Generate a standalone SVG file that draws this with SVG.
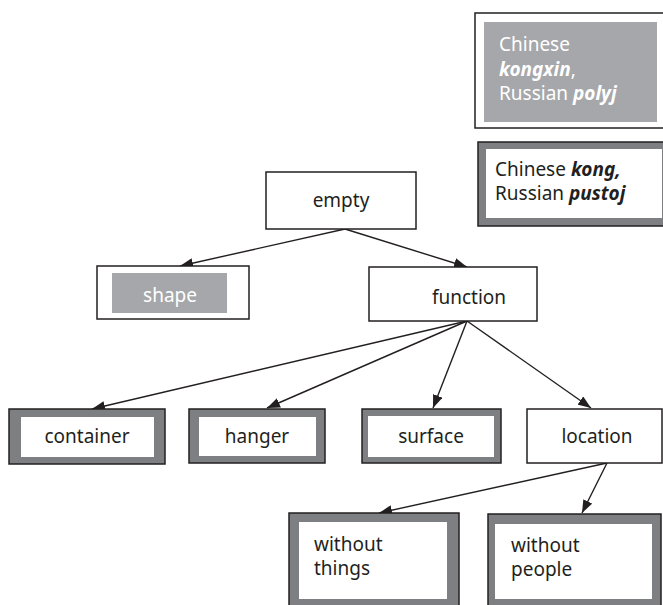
<svg xmlns="http://www.w3.org/2000/svg" width="663" height="605" viewBox="0 0 663 605">
  <style>
    text { font-family: "Noto Sans", "Open Sans", sans-serif; font-size: 19px; fill: #231f20; }
    .c { text-anchor: middle; }
    .w { fill: #ffffff; }
    .bi { font-weight: bold; font-style: italic; }
    .plain { fill: #ffffff; stroke: #231f20; stroke-width: 1.5; }
    .thick { fill: #7e7f83; stroke: #231f20; stroke-width: 1.5; }
    .inner { fill: #ffffff; }
    .grey { fill: #a6a7aa; }
    .edge { stroke: #231f20; stroke-width: 1.4; fill: none; marker-end: url(#arrow); }
  </style>
  <defs>
    <marker id="arrow" markerUnits="userSpaceOnUse" markerWidth="14" markerHeight="10" refX="13" refY="5" orient="auto">
      <path d="M0,0 L13,5 L0,10 z" fill="#231f20"/>
    </marker>
  </defs>

  <rect width="663" height="605" fill="#ffffff"/>

  <!-- key: plain frame with grey fill -->
  <g id="key-kongxin">
    <rect class="plain" x="475" y="13" width="195" height="115"/>
    <rect class="grey" x="484" y="22" width="173" height="100"/>
    <text class="w" x="499" y="51">Chinese</text>
    <text class="w" x="499" y="76"><tspan class="bi w">kongxin</tspan>,</text>
    <text class="w" x="499" y="100">Russian <tspan class="bi w">polyj</tspan></text>
  </g>

  <!-- key: thick grey frame -->
  <g id="key-kong">
    <rect class="thick" x="478" y="142" width="195" height="84"/>
    <rect class="inner" x="486" y="149" width="176" height="69"/>
    <text x="495" y="176">Chinese <tspan class="bi">kong,</tspan></text>
    <text x="495" y="200">Russian <tspan class="bi">pustoj</tspan></text>
  </g>

  <g id="connectors">
    <line class="edge" x1="345" y1="229" x2="180" y2="266"/>
    <line class="edge" x1="345" y1="229" x2="467" y2="267"/>
    <line class="edge" x1="467" y1="321" x2="92" y2="409"/>
    <line class="edge" x1="467" y1="321" x2="267" y2="408"/>
    <line class="edge" x1="467" y1="321" x2="433" y2="408"/>
    <line class="edge" x1="467" y1="321" x2="591" y2="408"/>
    <line class="edge" x1="607" y1="463" x2="379" y2="513"/>
    <line class="edge" x1="607" y1="463" x2="582" y2="513"/>
  </g>

  <g id="empty">
    <rect class="plain" x="266" y="172" width="150" height="57"/>
    <text class="c" x="341" y="207">empty</text>
  </g>

  <g id="shape">
    <rect class="plain" x="97" y="266" width="152" height="53"/>
    <rect class="grey" x="112" y="273" width="115" height="40"/>
    <text class="c w" x="170" y="302">shape</text>
  </g>

  <g id="function">
    <rect class="plain" x="369" y="267" width="168" height="54"/>
    <text class="c" x="469" y="304">function</text>
  </g>

  <g id="container">
    <rect class="thick" x="9" y="409" width="156" height="55"/>
    <rect class="inner" x="21" y="417" width="133" height="40"/>
    <text class="c" x="87" y="443">container</text>
  </g>

  <g id="hanger">
    <rect class="thick" x="189" y="409" width="136" height="54"/>
    <rect class="inner" x="199" y="417" width="117" height="39"/>
    <text class="c" x="257" y="443">hanger</text>
  </g>

  <g id="surface">
    <rect class="thick" x="362" y="409" width="139" height="54"/>
    <rect class="inner" x="368" y="416" width="126" height="41"/>
    <text class="c" x="431" y="443">surface</text>
  </g>

  <g id="location">
    <rect class="plain" x="527" y="409" width="135" height="54"/>
    <text class="c" x="597" y="443">location</text>
  </g>

  <g id="without-things">
    <rect class="thick" x="289" y="513" width="170" height="100"/>
    <rect class="inner" x="299" y="522" width="148" height="77"/>
    <text x="314" y="551">without</text>
    <text x="314" y="575">things</text>
  </g>

  <g id="without-people">
    <rect class="thick" x="488" y="514" width="173" height="100"/>
    <rect class="inner" x="495" y="524" width="157" height="75"/>
    <text x="511" y="552">without</text>
    <text x="511" y="576">people</text>
  </g>
</svg>
